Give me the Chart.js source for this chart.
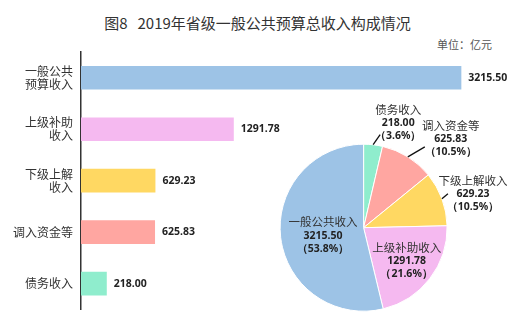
<!DOCTYPE html>
<html>
<head>
<meta charset="utf-8">
<script src="https://cdn.jsdelivr.net/npm/chart.js@4.4.0/dist/chart.umd.min.js"></script>
<style>
  body { margin: 0; background: #fff; }
  #wrap { position: relative; width: 525px; height: 330px; font-family: "Noto Sans CJK SC", sans-serif; }
  #title { position: absolute; left: 0; width: 515px; top: 12px; text-align: center; font-size: 15px; color: #333; }
  #unit { position: absolute; left: 437px; top: 36px; font-size: 11px; color: #555; }
  canvas { position: absolute; left: 0; top: 0; }
  #pieChart { pointer-events: none; }
</style>
</head>
<body>
<div id="wrap">
  <div id="title">图8&nbsp;&nbsp;&nbsp;2019年省级一般公共预算总收入构成情况</div>
  <div id="unit">单位：亿元</div>
  <canvas id="barChart" width="525" height="330"></canvas>
  <canvas id="pieChart" width="525" height="330"></canvas>
</div>
<script>
// 收入构成（亿元）
const barLabels = [["一般公共", "预算收入"], ["上级补助", "收入"], ["下级上解", "收入"], "调入资金等", "债务收入"]
const barValues = [3215.50, 1291.78, 629.23, 625.83, 218.00]
const barColors = ["#9dc3e6", "#f5b9f0", "#ffd862", "#ffa6a1", "#8fedcd"]

// 饼图按顺时针顺序
const pieNames = ["债务收入", "调入资金等", "下级上解收入", "上级补助收入", "一般公共收入"]
const pieValues = [218.00, 625.83, 629.23, 1291.78, 3215.50]
const pieColors = ["#8fedcd", "#ffa6a1", "#ffd862", "#f5b9f0", "#9dc3e6"]

const numFont = "bold 10.5px 'Noto Sans', sans-serif"
const nameFont = "11.5px 'Noto Sans CJK SC', sans-serif"

// 柱端数值
const barValuePlugin = {
  id: "barValues",
  afterDatasetsDraw(chart) {
    const ctx = chart.ctx
    const meta = chart.getDatasetMeta(0)
    ctx.save()
    ctx.font = numFont
    ctx.fillStyle = "#222"
    ctx.textAlign = "left"
    ctx.textBaseline = "middle"
    meta.data.forEach((bar, i) => {
      ctx.fillText(barValues[i].toFixed(2), bar.x + 7, bar.y)
    })
    ctx.restore()
  }
}

new Chart(document.getElementById("barChart"), {
  type: "bar",
  data: {
    labels: barLabels,
    datasets: [{
      data: barValues,
      backgroundColor: barColors,
      barPercentage: 0.5,
      categoryPercentage: 0.92
    }]
  },
  options: {
    responsive: false,
    animation: false,
    indexAxis: "y",
    layout: { padding: { top: 52, bottom: 17, right: 30 } },
    plugins: { legend: { display: false }, tooltip: { enabled: false } },
    scales: {
      x: { display: false, min: 0, max: 3500 },
      y: {
        afterFit: (scale) => { scale.width = 81 },
        grid: { display: false, drawTicks: false },
        border: { display: true, color: "#333", width: 1.5 },
        ticks: {
          padding: 8,
          color: "#333",
          font: { family: "'Noto Sans CJK SC', sans-serif", size: 12, lineHeight: 1.05 }
        }
      }
    }
  },
  plugins: [barValuePlugin]
})

// 饼图标签：inside 为半径比例，outside 为引线终点偏移及文字偏移
const piePlacement = [
  { line: [7, -10], text: [18, -12] },
  { line: [17, -10], text: [26, -8] },
  { line: [6, -5], text: [25, 0] },
  { inside: 0.65, text: [0, 0] },
  { inside: 0.49, text: [0, 3] }
]

const pieLabelPlugin = {
  id: "pieLabels",
  afterDatasetsDraw(chart) {
    const ctx = chart.ctx
    const meta = chart.getDatasetMeta(0)
    const total = pieValues.reduce((a, b) => a + b, 0)
    ctx.save()
    ctx.textAlign = "center"
    ctx.textBaseline = "middle"
    meta.data.forEach((arc, i) => {
      const p = piePlacement[i]
      const mid = (arc.startAngle + arc.endAngle) / 2
      let cx, cy
      if (p.inside) {
        const r = arc.outerRadius * p.inside
        cx = arc.x + r * Math.cos(mid) + p.text[0]
        cy = arc.y + r * Math.sin(mid) + p.text[1]
      } else {
        const sx = arc.x + arc.outerRadius * Math.cos(mid)
        const sy = arc.y + arc.outerRadius * Math.sin(mid)
        const ex = sx + p.line[0]
        const ey = sy + p.line[1]
        ctx.strokeStyle = "#111"
        ctx.lineWidth = 1.3
        ctx.beginPath()
        ctx.moveTo(sx, sy)
        ctx.lineTo(ex, ey)
        ctx.stroke()
        cx = ex + p.text[0]
        cy = ey + p.text[1]
      }
      const pct = (pieValues[i] / total * 100).toFixed(1)
      ctx.fillStyle = "#333"
      ctx.font = nameFont
      ctx.fillText(pieNames[i], cx, cy - 13.5)
      ctx.fillStyle = "#222"
      ctx.font = numFont
      ctx.fillText(pieValues[i].toFixed(2), cx, cy)
      ctx.fillText("（" + pct + "%）", cx, cy + 13)
    })
    ctx.restore()
  }
}

new Chart(document.getElementById("pieChart"), {
  type: "pie",
  data: {
    labels: pieNames,
    datasets: [{
      data: pieValues,
      backgroundColor: pieColors,
      borderColor: "#fff",
      borderWidth: 1
    }]
  },
  options: {
    responsive: false,
    animation: false,
    layout: { padding: { left: 279.6, top: 143.7, right: 77.4, bottom: 18.3 } },
    plugins: { legend: { display: false }, tooltip: { enabled: false } }
  },
  plugins: [pieLabelPlugin]
})
</script>
</body>
</html>
